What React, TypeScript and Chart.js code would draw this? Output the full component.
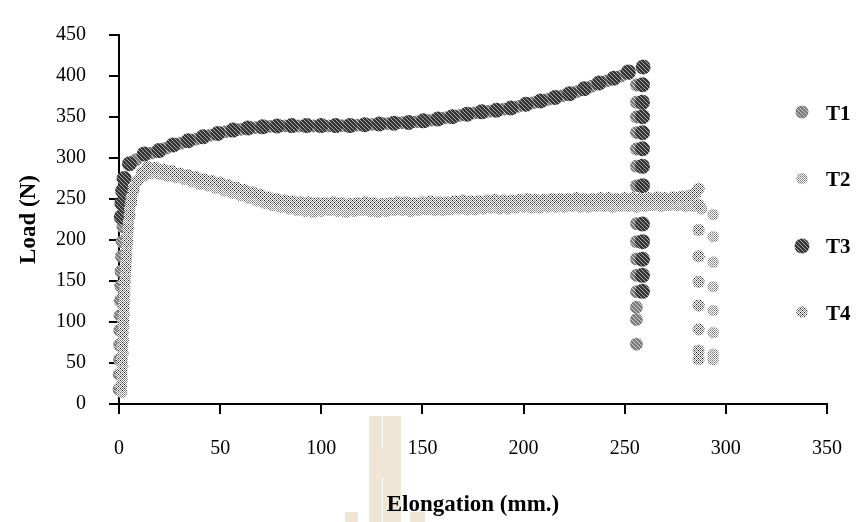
import React, { useEffect, useRef } from 'react';
import { Chart, registerables } from 'chart.js';

Chart.register(...registerables);

const X_MIN = 0;
const X_MAX = 350;
const X_STEP = 50;
const Y_MIN = 0;
const Y_MAX = 450;
const Y_STEP = 50;

const xTitle = 'Elongation (mm.)';
const yTitle = 'Load (N)';
const seriesNames = ['T1', 'T2', 'T3', 'T4'];

// T1
const t1X = [0.0, 0.1, 0.2, 0.3, 0.4, 0.5, 0.6, 0.8, 1.0, 1.2, 1.5, 1.9, 2.5, 3.5,
  8.5, 16, 23.3, 30.5, 38, 45.2, 52.6, 60, 67.3, 74.6, 81.8, 89, 96.3, 103.5, 110.6, 117.8, 125.1, 132.3, 139.6,
  146.8, 154.1, 161.2, 168.4, 175.7, 183, 190.2, 197.5, 204.8, 212, 219.2, 226.4, 233.6, 241, 248.2,
  252, 255.8, 255.8, 255.8, 255.8, 255.8, 255.8, 255.8, 255.8, 255.8, 255.8, 255.8, 255.8, 255.8, 255.8, 255.8, 255.8];
const t1Y = [18, 36, 54, 72, 90, 108, 126, 144, 162, 180, 198, 216, 236, 256,
  298, 306, 312, 318, 323, 328, 332, 335, 337, 338.5, 339, 339, 339, 339, 339.5, 340, 341, 342, 343,
  344, 346, 349, 352, 355, 357, 359.5, 363, 367.5, 371.5, 376, 381, 387.5, 394, 400,
  403, 389, 368, 350, 331, 311, 290, 266, 245, 220, 198, 177, 157, 137, 118, 103, 73];

// T2
const t2X = [1.4, 1.6, 1.8, 2.0, 2.2, 2.4, 2.6, 2.8, 3.0, 3.3, 3.6, 3.9, 4.3, 4.7, 5.3, 6.1, 7.4, 9.5, 12.5, 16,
  20, 24, 28, 32, 36, 40, 44, 48, 52, 56, 60, 64, 68, 72, 76, 80, 84, 88,
  92, 96, 100, 104, 108, 112, 116, 120, 124, 128, 132, 136, 140, 144, 148, 152, 156, 160, 164, 168,
  172, 176, 180, 184, 188, 192, 196, 200, 204, 208, 212, 216, 220, 224, 228, 232, 236, 240, 244, 248,
  252, 256, 260, 264, 268, 272, 276, 280, 284,
  288, 293.7, 293.7, 293.7, 293.7, 293.7, 293.7, 293.7, 293.7];
const t2Y = [14, 30, 46, 62, 78, 94, 110, 126, 142, 158, 174, 190, 206, 222, 238, 252, 264, 273, 278, 281,
  280, 278, 276, 274, 271, 268, 266, 263, 260, 257, 254, 251, 248, 245, 242, 240, 238, 236,
  235, 234, 235, 236, 235, 234, 235, 236, 235, 234, 235, 236, 236, 235, 236, 237, 236, 236, 237, 238,
  237, 237, 238, 239, 238, 238, 239, 240, 239, 239, 240, 240, 240, 241, 240, 240, 241, 241, 240, 241,
  241, 240, 241, 242, 241, 242, 242, 241, 241,
  238, 231, 204, 173, 143, 114, 87, 61, 54];

// T3
const t3X = [1.1, 1.4, 1.8, 2.5, 5.2, 12.5, 19.8, 26.8, 34.2, 41.6, 48.9, 56.4, 63.7, 71, 78.2,
  85.4, 92.7, 99.9, 107.1, 114.2, 121.5, 128.7, 136, 143.2, 150.5, 157.7, 164.8, 172.1, 179.3, 186.6, 193.8,
  201.2, 208.4, 215.6, 222.8, 230, 237.3, 244.6, 251.8, 259.1,
  258.8, 258.8, 258.8, 258.8, 258.8, 258.8, 258.8, 258.8, 258.8, 258.8, 258.8, 258.8, 258.8];
const t3Y = [228, 245, 260, 275, 293, 305, 309, 316, 321, 326, 330, 334, 336.5, 338, 339,
  339.5, 339.5, 339.5, 339.5, 339.5, 340.5, 341.4, 342.5, 343.4, 345.3, 347.6, 350.4, 353.5, 356.3, 358.2, 361,
  365.5, 369.5, 373.9, 378.5, 384.4, 391.4, 397.3, 405, 410.9,
  389.4, 367.9, 350.4, 330.8, 311.3, 289.8, 266.3, 244.9, 219.5, 198, 176.5, 156.9, 137.4];

// T4
const t4X = [1.0, 1.2, 1.4, 1.6, 1.8, 2.0, 2.3, 2.6, 2.9, 3.3, 3.7, 4.1, 4.6, 5.2, 6.0, 7.2, 9.0, 11.5, 14.2,
  18, 22, 26, 30, 34, 38, 42, 46, 50, 54, 58, 62, 66, 70, 74, 78, 82, 86, 90,
  94, 98, 102, 106, 110, 114, 118, 122, 126, 130, 134, 138, 142, 146, 150, 154, 158, 162, 166, 170,
  174, 178, 182, 186, 190, 194, 198, 202, 206, 210, 214, 218, 222, 226, 230, 234, 238, 242, 246, 250,
  254, 258, 262, 266, 270, 274, 278, 282,
  285, 286.5, 286.5, 286.5, 286.5, 286.5, 286.5, 286.5, 286.5, 286.5];
const t4Y = [22, 38, 54, 70, 86, 102, 118, 134, 150, 166, 182, 198, 214, 230, 246, 260, 272, 282, 289,
  288, 286, 284, 281, 279, 277, 274, 272, 270, 267, 264, 261, 258, 255, 252, 250, 248, 247, 246,
  246, 245, 245, 246, 245, 244, 245, 246, 245, 244, 245, 246, 246, 245, 246, 247, 246, 246, 247, 248,
  247, 247, 248, 249, 248, 248, 249, 250, 249, 249, 250, 250, 250, 251, 250, 250, 251, 251, 250, 251,
  251, 250, 251, 252, 251, 252, 253, 254,
  257, 262.5, 243, 212, 180, 149, 120, 91, 65, 55];

const FONT = '"Liberation Serif", "Times New Roman", serif';

function makePattern(size: number, base: string, pixels: [number, number, string][]) {
  const c = document.createElement('canvas');
  c.width = size;
  c.height = size;
  const g = c.getContext('2d')!;
  g.fillStyle = base;
  g.fillRect(0, 0, size, size);
  for (const [px, py, col] of pixels) {
    g.fillStyle = col;
    g.fillRect(px, py, 1, 1);
  }
  return g.createPattern(c, 'repeat')!;
}

function toPoints(xs: number[], ys: number[]) {
  return xs.map((x, i) => ({ x, y: ys[i] }));
}

export default function App() {
  const ref = useRef<HTMLCanvasElement>(null);

  useEffect(() => {
    if (!ref.current) return;

    const pT1 = makePattern(4, '#7c7c7c', [[0, 0, '#cfcfcf'], [1, 1, '#cfcfcf'], [2, 2, '#cfcfcf'], [3, 3, '#cfcfcf']]);
    const pT2 = makePattern(2, '#ffffff', [[0, 0, '#7a7a7a'], [1, 1, '#9a9a9a']]);
    const pT3 = makePattern(4, '#363636', [[0, 0, '#a6a6a6'], [1, 1, '#a6a6a6'], [2, 2, '#a6a6a6'], [3, 3, '#a6a6a6']]);
    const pT4 = makePattern(4, '#ffffff', [
      [0, 0, '#1a1a1a'], [2, 0, '#8a8a8a'], [1, 1, '#8a8a8a'], [3, 1, '#8a8a8a'],
      [0, 2, '#8a8a8a'], [2, 2, '#1a1a1a'], [1, 3, '#8a8a8a'], [3, 3, '#8a8a8a'],
    ]);

    const fills = [pT1, pT2, pT3, pT4];
    const radii = [6.4, 5.8, 7.5, 6.1];
    const legendRadii = [6.5, 5.8, 7.5, 5.8];

    const decor = {
      id: 'decor',
      beforeDraw(chart: any) {
        const ctx = chart.ctx;
        ctx.save();
        ctx.fillStyle = '#efe6d6';
        ctx.fillRect(369, 416, 13, 106);
        ctx.fillRect(383, 416, 18, 106);
        ctx.fillRect(381, 448, 3, 30);
        ctx.fillRect(345, 512, 13, 10);
        ctx.fillRect(410, 512, 15, 10);
        ctx.restore();
      },
      afterDraw(chart: any) {
        const ctx = chart.ctx;
        const area = chart.chartArea;
        ctx.save();
        ctx.fillStyle = '#000';
        ctx.font = `bold 23px ${FONT}`;
        ctx.textAlign = 'center';
        ctx.textBaseline = 'alphabetic';
        ctx.fillText(xTitle, (area.left + area.right) / 2, 511);
        ctx.save();
        ctx.translate(35, (area.top + area.bottom) / 2);
        ctx.rotate(-Math.PI / 2);
        ctx.fillText(yTitle, 0, 0);
        ctx.restore();

        const ys = [112, 178.5, 246, 312];
        const bases = [119.5, 186, 253, 319.5];
        seriesNames.forEach((name, i) => {
          ctx.beginPath();
          ctx.arc(802, ys[i], legendRadii[i], 0, Math.PI * 2);
          ctx.fillStyle = fills[i];
          ctx.fill();
          ctx.fillStyle = '#000';
          ctx.font = `bold 21px ${FONT}`;
          ctx.textAlign = 'left';
          ctx.fillText(name, 826, bases[i]);
        });
        ctx.restore();
      },
    };

    const series = [
      toPoints(t1X, t1Y),
      toPoints(t2X, t2Y),
      toPoints(t3X, t3Y),
      toPoints(t4X, t4Y),
    ];
    const orders = [3, 1, 2, 0];

    const chart = new Chart(ref.current, {
      type: 'scatter',
      data: {
        datasets: series.map((data, i) => ({
          label: seriesNames[i],
          data,
          backgroundColor: fills[i],
          borderWidth: 0,
          borderColor: 'rgba(0,0,0,0)',
          pointRadius: radii[i],
          pointHoverRadius: radii[i],
          showLine: false,
          clip: false as any,
          order: orders[i],
        })),
      },
      options: {
        responsive: false,
        animation: false,
        devicePixelRatio: 1,
        layout: { padding: { left: 0, right: 22, top: 20, bottom: 0 } },
        plugins: {
          legend: { display: false },
          tooltip: { enabled: false },
        },
        scales: {
          x: {
            type: 'linear',
            min: X_MIN,
            max: X_MAX,
            ticks: {
              stepSize: X_STEP,
              color: '#000',
              padding: 23,
              maxRotation: 0,
              font: { family: FONT, size: 20 },
            },
            grid: { drawOnChartArea: false, drawTicks: true, tickLength: 10, color: '#000', lineWidth: 2 },
            border: { display: true, color: '#000', width: 2 },
            afterFit: (s: any) => { s.height = 118; },
          },
          y: {
            type: 'linear',
            min: Y_MIN,
            max: Y_MAX,
            ticks: {
              stepSize: Y_STEP,
              color: '#000',
              padding: 23,
              font: { family: FONT, size: 20 },
            },
            grid: { drawOnChartArea: false, drawTicks: true, tickLength: 10, color: '#000', lineWidth: 2 },
            border: { display: true, color: '#000', width: 2 },
            afterFit: (s: any) => { s.width = 119; },
          },
        },
      },
      plugins: [decor],
    });

    return () => chart.destroy();
  }, []);

  return (
    <div style={{ position: 'fixed', left: 0, top: 0, width: 865, height: 522, background: '#fff' }}>
      <canvas ref={ref} width={865} height={522} style={{ display: 'block' }} />
    </div>
  );
}
